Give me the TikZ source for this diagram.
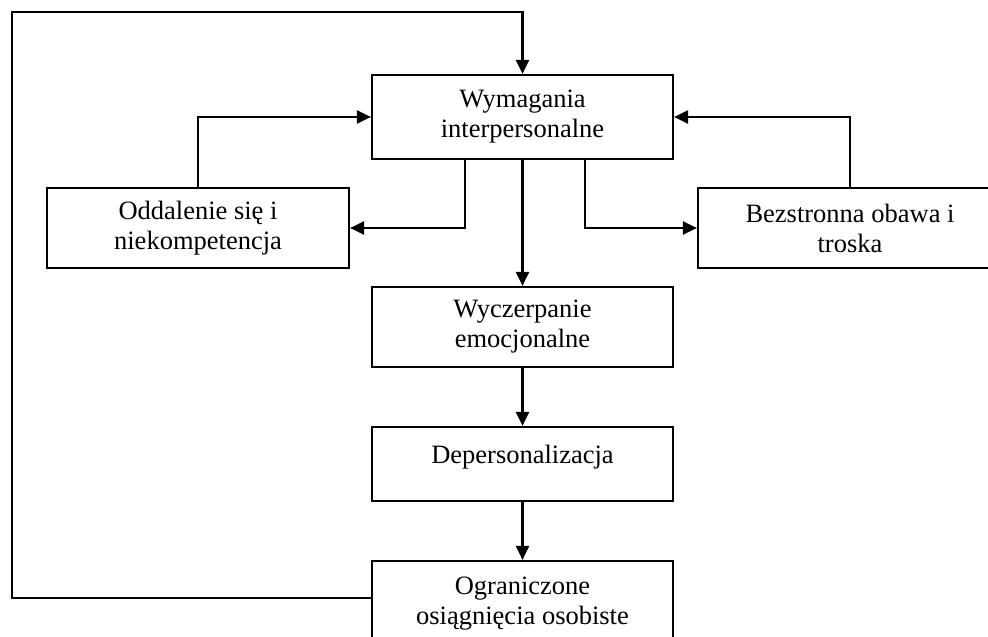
\documentclass[tikz,border=0pt]{standalone}
\usepackage{fontspec}
\setmainfont{Liberation Serif}
\usetikzlibrary{arrows.meta}
\begin{document}
\begin{tikzpicture}[x=1pt,y=-1pt,
  box/.style={draw,line width=2.2pt,rectangle,align=center,inner sep=0pt,
    font=\fontsize{26.5}{30}\selectfont},
  conn/.style={line width=2.2pt,-{Triangle[length=14pt,width=13pt]}},
  plain/.style={line width=2.2pt}]
\useasboundingbox (0,0) rectangle (988,637);
\node[box,minimum width=301pt,minimum height=84pt] (w) at (522.5,117) {Wymagania\\interpersonalne};
\node[box,minimum width=302pt,minimum height=80pt] (o) at (198,228) {Oddalenie się i\\niekompetencja};
\node[box,minimum width=304pt,minimum height=80pt] (b) at (850,228) {Bezstronna obawa i\\troska};
\node[box,minimum width=301pt,minimum height=80pt] (e) at (522.5,327) {Wyczerpanie\\emocjonalne};
\node[box,minimum width=301pt,minimum height=74pt,text height=19pt,text depth=21pt] (d) at (522.5,464) {Depersonalizacja};
\node[box,minimum width=301pt,minimum height=86pt] (g) at (522.5,604) {Ograniczone\\osiągnięcia osobiste};
\coordinate (tl) at (12,12);
\coordinate (bl) at (12,598);
\draw[conn] (o.north) |- (w.west);
\draw[conn] (b.north) |- (w.east);
\draw[conn] ([xshift=-57.5pt]w.south) |- (o.east);
\draw[conn] ([xshift=62.5pt]w.south) |- (b.west);
\draw[conn] (w.south) -- (e.north);
\draw[conn] (e.south) -- (d.north);
\draw[conn] (d.south) -- (g.north);
\draw[conn] ([yshift=6pt]g.west) -- (bl) -- (tl) -| (w.north);
\end{tikzpicture}
\end{document}
